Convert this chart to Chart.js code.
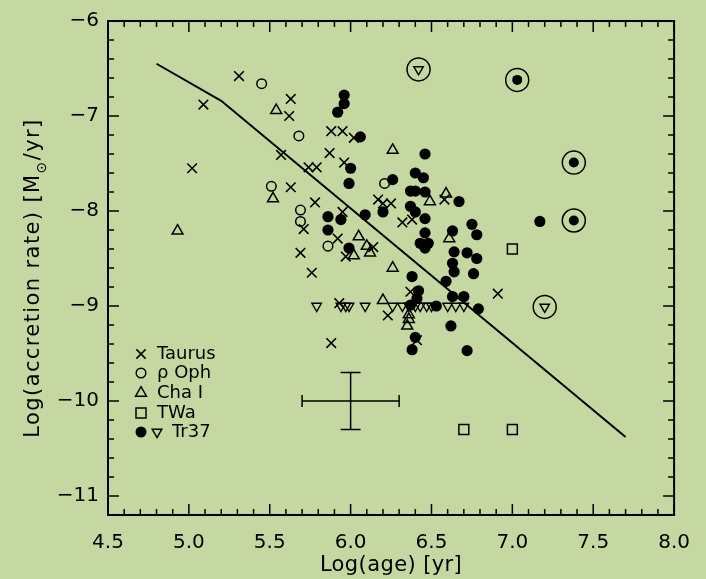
<!DOCTYPE html>
<html><head><meta charset="utf-8">
<script src="https://cdn.jsdelivr.net/npm/chart.js@4"></script>
<style>html,body{margin:0;padding:0;background:#c6d8a1;}#wrap{width:706px;height:579px;}</style>
</head><body><div id="wrap"><canvas id="c" width="706" height="579"></canvas></div>
<script>
// ---- tick labels / ranges ----
const xTicks = [4.5, 5.0, 5.5, 6.0, 6.5, 7.0, 7.5, 8.0];
const yTicks = [-11, -10, -9, -8, -7, -6];
const xMinor = 0.1, yMinor = 0.2;

// ---- data ----
const taurusX = [5.31,5.09,5.02,5.63,5.62,5.57,5.63,5.74,5.79,5.88,5.95,6.02,5.87,5.96,6.17,6.20,6.25,6.32,6.38,5.78,5.71,5.95,5.92,6.14,5.97,5.69,5.76,5.93,6.23,6.37,6.41,5.88,6.91,6.58];
const taurusY = [-6.58,-6.88,-7.55,-6.82,-7.00,-7.41,-7.75,-7.54,-7.54,-7.16,-7.16,-7.23,-7.39,-7.49,-7.88,-7.92,-7.92,-8.12,-8.09,-7.91,-8.19,-8.01,-8.29,-8.38,-8.48,-8.44,-8.65,-8.97,-9.10,-8.85,-9.36,-9.39,-8.87,-7.88];
const rhoX = [5.45,5.68,5.51,6.21,5.69,5.69,5.86];
const rhoY = [-6.66,-7.21,-7.74,-7.71,-7.99,-8.11,-8.37];
const chaX = [4.93,5.54,5.52,6.26,6.49,6.59,6.61,6.05,6.10,6.12,6.02,6.26,6.20,6.36,6.36,6.35];
const chaY = [-8.21,-6.94,-7.87,-7.36,-7.90,-7.82,-8.29,-8.27,-8.37,-8.44,-8.47,-8.60,-8.94,-9.09,-9.14,-9.21];
const twaX = [7.00,6.70,7.00];
const twaY = [-8.40,-10.30,-10.30];
const tr37X = [5.96,5.96,5.92,6.06,6.46,6.00,5.99,6.26,6.40,6.45,6.37,6.40,6.46,6.67,6.20,6.37,6.40,6.46,6.09,5.86,5.94,5.86,5.99,6.46,6.43,6.48,6.46,6.63,6.75,6.78,6.64,6.72,6.78,6.63,6.64,6.76,6.38,6.59,6.42,6.41,6.37,6.63,6.70,6.79,6.53,6.62,6.40,6.38,6.72,7.17];
const tr37Y = [-6.78,-6.87,-6.96,-7.22,-7.40,-7.55,-7.71,-7.67,-7.60,-7.65,-7.79,-7.79,-7.80,-7.90,-8.01,-7.95,-8.01,-8.08,-8.04,-8.06,-8.09,-8.20,-8.39,-8.23,-8.34,-8.34,-8.39,-8.21,-8.14,-8.25,-8.43,-8.44,-8.50,-8.55,-8.64,-8.66,-8.69,-8.74,-8.84,-8.92,-8.99,-8.90,-8.90,-9.03,-9.00,-9.21,-9.33,-9.46,-9.47,-8.11];
const tr37RingX = [7.03,7.38,7.38];
const tr37RingY = [-6.62,-7.49,-8.10];
const tr37LimX = [5.79,5.94,5.97,5.99,6.09,6.26,6.32,6.36,6.40,6.43,6.47,6.50,6.60,6.65,6.70];
const tr37LimY = [-9.0,-9.0,-9.0,-9.0,-9.0,-9.0,-9.0,-9.0,-9.0,-9.0,-9.0,-9.0,-9.0,-9.0,-9.0];
const tr37LimRingX = [6.42,7.20];
const tr37LimRingY = [-6.51,-9.01];
const modelX = [4.8,5.2,7.7];
const modelY = [-6.45,-6.84,-10.38];
const errCenter = [6.0,-10.0];
const errHalf = [0.3,0.3];

const BG = '#c6d8a1';
const FONT = 'DejaVu Sans';
const pts = (xs, ys) => xs.map((x, i) => ({x: x, y: ys[i]}));
const minus = v => (v < 0 ? '\u2212' + Math.abs(v) : String(v));

const bgPlugin = {
  id: 'bg',
  beforeDraw(chart) {
    const c = chart.ctx;
    c.save(); c.fillStyle = BG; c.fillRect(0, 0, chart.width, chart.height); c.restore();
  }
};

const framePlugin = {
  id: 'frame',
  afterDatasetsDraw(chart) {
    const c = chart.ctx, a = chart.chartArea, sx = chart.scales.x, sy = chart.scales.y;
    c.save();
    c.strokeStyle = '#000';
    c.lineWidth = 2;
    c.strokeRect(a.left, a.top, a.right - a.left, a.bottom - a.top);
    c.lineWidth = 1.5;
    c.beginPath();
    // x ticks
    const nx = Math.round((xTicks[xTicks.length-1] - xTicks[0]) / xMinor);
    for (let i = 0; i <= nx; i++) {
      const v = xTicks[0] + i * xMinor;
      const px = sx.getPixelForValue(v);
      const major = i % 5 === 0;
      const L = major ? 11 : 6;
      c.moveTo(px, a.bottom); c.lineTo(px, a.bottom - L);
      c.moveTo(px, a.top); c.lineTo(px, a.top + L);
    }
    // y ticks
    const y0 = sy.min;
    const ny = Math.round((sy.max - y0) / yMinor);
    for (let i = 0; i <= ny; i++) {
      const v = y0 + i * yMinor;
      const py = sy.getPixelForValue(v);
      const major = Math.abs(v - Math.round(v)) < 1e-6;
      const L = major ? 11 : 6;
      c.moveTo(a.left, py); c.lineTo(a.left + L, py);
      c.moveTo(a.right, py); c.lineTo(a.right - L, py);
    }
    c.stroke();

    // axis titles
    c.fillStyle = '#000';
    c.font = '21px "' + FONT + '"';
    try { c.letterSpacing = '0.4px'; } catch (e) {}
    c.textAlign = 'center'; c.textBaseline = 'middle';
    c.fillText('Log(age) [yr]', (a.left + a.right) / 2, 566);

    // y title with subscript sun symbol
    try { c.letterSpacing = '1.4px'; } catch (e) {}
    const p1 = 'Log(accretion rate) [M', p2 = '\u2299', p3 = '/yr]';
    c.font = '21px "' + FONT + '"';
    const w1 = c.measureText(p1).width, w3 = c.measureText(p3).width;
    c.font = '14px "' + FONT + '"';
    const w2 = c.measureText(p2).width;
    const tot = w1 + w2 + w3;
    c.translate(39, 278);
    c.rotate(-Math.PI / 2);
    c.textAlign = 'left'; c.textBaseline = 'alphabetic';
    let x = -tot / 2;
    c.font = '21px "' + FONT + '"';
    c.fillText(p1, x, 0); x += w1;
    c.font = '14px "' + FONT + '"';
    c.fillText(p2, x, 7); x += w2;
    c.font = '21px "' + FONT + '"';
    c.fillText(p3, x, 0);
    c.restore();
  }
};

const legendRows = [
  {label: 'Taurus', y: 354, marks: ['cross'], tx: 157},
  {label: '\u03c1 Oph', y: 373, marks: ['ocircle'], tx: 157},
  {label: 'Cha I', y: 393, marks: ['tri'], tx: 157},
  {label: 'TWa', y: 413, marks: ['square'], tx: 157},
  {label: 'Tr37', y: 432, marks: ['dot', 'itri'], tx: 172}
];

function mark(c, kind, x, y) {
  c.beginPath();
  c.lineWidth = 1.5; c.strokeStyle = '#000'; c.fillStyle = '#000';
  if (kind === 'cross') {
    c.lineWidth = 1.6;
    c.moveTo(x-4.6, y-4.6); c.lineTo(x+4.6, y+4.6);
    c.moveTo(x+4.6, y-4.6); c.lineTo(x-4.6, y+4.6); c.stroke();
  } else if (kind === 'ocircle') {
    c.arc(x, y, 4.8, 0, Math.PI*2); c.stroke();
  } else if (kind === 'tri') {
    const r = 6.3;
    c.moveTo(x, y - r); c.lineTo(x + r*0.866, y + r/2); c.lineTo(x - r*0.866, y + r/2); c.closePath(); c.stroke();
  } else if (kind === 'itri') {
    const r = 5.5;
    c.moveTo(x, y + r); c.lineTo(x + r*0.866, y - r/2); c.lineTo(x - r*0.866, y - r/2); c.closePath(); c.stroke();
  } else if (kind === 'square') {
    c.rect(x-5, y-5, 10, 10); c.stroke();
  } else if (kind === 'dot') {
    c.arc(x, y, 5.5, 0, Math.PI*2); c.fill();
  }
}

const legendPlugin = {
  id: 'leg',
  afterDraw(chart) {
    const c = chart.ctx;
    c.save();
    legendRows.forEach(r => {
      r.marks.forEach((m, i) => mark(c, m, 141 + i * 16, r.y));
      c.fillStyle = '#000';
      c.font = '18px "' + FONT + '"';
      c.textAlign = 'left'; c.textBaseline = 'middle';
      c.fillText(r.label, r.tx, r.y);
    });
    c.restore();
  }
};

const blk = '#000';
const datasets = [
  {data: pts(modelX, modelY), showLine: true, borderColor: blk, borderWidth: 2, pointRadius: 0, fill: false},
  {data: pts(taurusX, taurusY), pointStyle: 'crossRot', pointRadius: 6.8, borderColor: blk, borderWidth: 1.6, backgroundColor: 'rgba(0,0,0,0)'},
  {data: pts(rhoX, rhoY), pointStyle: 'circle', pointRadius: 4.8, borderColor: blk, borderWidth: 1.5, backgroundColor: 'rgba(0,0,0,0)'},
  {data: pts(chaX, chaY), pointStyle: 'triangle', pointRadius: 6.3, borderColor: blk, borderWidth: 1.5, backgroundColor: 'rgba(0,0,0,0)'},
  {data: pts(twaX, twaY), pointStyle: 'rect', pointRadius: 7, borderColor: blk, borderWidth: 1.5, backgroundColor: 'rgba(0,0,0,0)'},
  {data: pts(tr37X, tr37Y), pointStyle: 'circle', pointRadius: 5.6, borderWidth: 0, backgroundColor: blk, borderColor: blk},
  {data: pts(tr37RingX, tr37RingY), pointStyle: 'circle', pointRadius: 5, borderWidth: 0, backgroundColor: blk, borderColor: blk},
  {data: pts(tr37LimX, tr37LimY), pointStyle: 'triangle', pointRotation: 180, pointRadius: 5.5, borderColor: blk, borderWidth: 1.4, backgroundColor: 'rgba(0,0,0,0)'},
  {data: pts(tr37LimRingX, tr37LimRingY), pointStyle: 'triangle', pointRotation: 180, pointRadius: 5.5, borderColor: blk, borderWidth: 1.4, backgroundColor: 'rgba(0,0,0,0)'},
  {data: pts(tr37RingX.concat(tr37LimRingX), tr37RingY.concat(tr37LimRingY)), pointStyle: 'circle', pointRadius: 11.5, borderColor: blk, borderWidth: 1.5, backgroundColor: 'rgba(0,0,0,0)'},
  {data: [{x: errCenter[0] - errHalf[0], y: errCenter[1]}, {x: errCenter[0] + errHalf[0], y: errCenter[1]}], showLine: true, borderColor: blk, borderWidth: 1.5, pointStyle: 'line', pointRotation: 90, pointRadius: 6, pointBorderWidth: 1.5, pointBorderColor: blk},
  {data: [{x: errCenter[0], y: errCenter[1] - errHalf[1]}, {x: errCenter[0], y: errCenter[1] + errHalf[1]}], showLine: true, borderColor: blk, borderWidth: 1.5, pointStyle: 'line', pointRotation: 0, pointRadius: 10, pointBorderWidth: 1.5, pointBorderColor: blk}
];

new Chart(document.getElementById('c'), {
  type: 'scatter',
  data: {datasets: datasets},
  options: {
    responsive: false,
    animation: false,
    events: [],
    layout: {padding: {left: 0, right: 31, top: 8, bottom: 0}},
    plugins: {legend: {display: false}, tooltip: {enabled: false}},
    scales: {
      x: {
        type: 'linear', min: xTicks[0], max: xTicks[xTicks.length-1],
        grid: {display: false, drawTicks: false}, border: {display: false},
        ticks: {font: {family: FONT, size: 20}, color: '#000', padding: 16, maxRotation: 0, autoSkip: false,
                callback: v => Number(v).toFixed(1)},
        afterBuildTicks: s => { s.ticks = xTicks.map(v => ({value: v})); },
        afterFit: s => { s.height = 64; }
      },
      y: {
        type: 'linear', min: -11.2, max: yTicks[yTicks.length-1],
        grid: {display: false, drawTicks: false}, border: {display: false},
        ticks: {font: {family: FONT, size: 20}, color: '#000', padding: 9, autoSkip: false,
                callback: v => minus(v)},
        afterBuildTicks: s => { s.ticks = yTicks.map(v => ({value: v})); },
        afterFit: s => { s.width = 108; }
      }
    }
  },
  plugins: [bgPlugin, framePlugin, legendPlugin]
});
</script>
</body></html>
